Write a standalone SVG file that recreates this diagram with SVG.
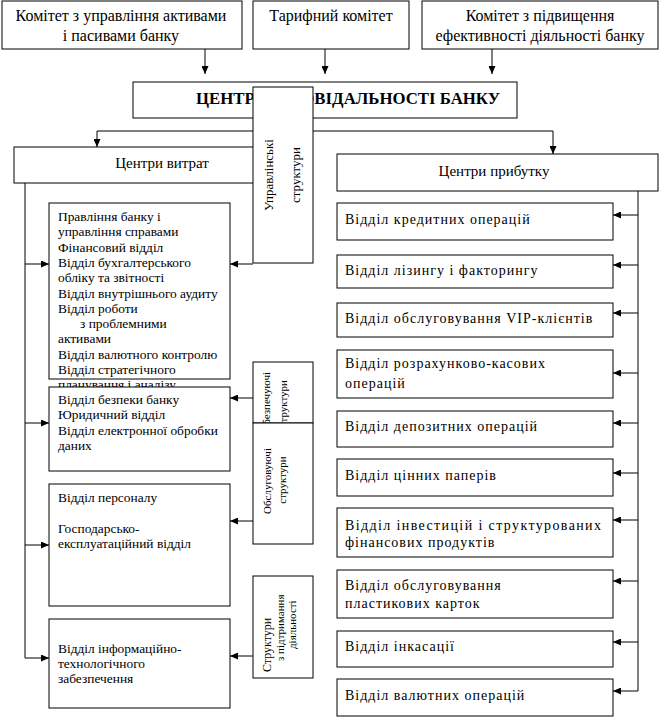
<svg xmlns="http://www.w3.org/2000/svg" width="662" height="717" viewBox="0 0 662 717" font-family="Liberation Serif, Times New Roman, serif">
<defs>
<marker id="ah" markerUnits="userSpaceOnUse" markerWidth="8" markerHeight="7" refX="8" refY="3.5" orient="auto">
<path d="M0,0 L8,3.5 L0,7 z" fill="#000"/>
</marker>
<style>
rect{fill:#fff;stroke:#000;stroke-width:1}
text{font-family:'Liberation Serif', serif;fill:#000}
.t16{font-size:16px}
.t15{font-size:15px}
.t13{font-size:13.4px}
.r{font-size:14px;letter-spacing:1px}
.v13{font-size:13px}
.v11{font-size:11px}
.c{text-anchor:middle}
.ln{fill:none;stroke:#000;stroke-width:1}
.ar{fill:none;stroke:#000;stroke-width:1;marker-end:url(#ah)}
</style>
</defs>
<rect x="0" y="0" width="662" height="717" style="fill:#fff;stroke:none"/>

<g id="connectors">
<line class="ar" x1="205" y1="49" x2="205" y2="74"/>
<line class="ar" x1="325" y1="49" x2="325" y2="74"/>
<line class="ar" x1="492" y1="49" x2="492" y2="74"/>
<line class="ln" x1="97" y1="131" x2="553" y2="131"/>
<line class="ar" x1="97" y1="131" x2="97" y2="147"/>
<line class="ar" x1="553" y1="131" x2="553" y2="154"/>
<line class="ln" x1="25" y1="183" x2="25" y2="658"/>
<line class="ar" x1="25" y1="264" x2="49" y2="264"/>
<line class="ar" x1="25" y1="423" x2="49" y2="423"/>
<line class="ar" x1="25" y1="545" x2="49" y2="545"/>
<line class="ar" x1="25" y1="658" x2="49" y2="658"/>
<line class="ar" x1="253" y1="264" x2="230" y2="264"/>
<line class="ar" x1="253" y1="398" x2="230" y2="398"/>
<line class="ar" x1="253" y1="521" x2="230" y2="521"/>
<line class="ar" x1="253" y1="656" x2="230" y2="656"/>
<line class="ln" x1="638" y1="191" x2="638" y2="691"/>
<line class="ar" x1="638" y1="215" x2="613" y2="215"/>
<line class="ar" x1="638" y1="265" x2="613" y2="265"/>
<line class="ar" x1="638" y1="313" x2="613" y2="313"/>
<line class="ar" x1="638" y1="373" x2="613" y2="373"/>
<line class="ar" x1="638" y1="423" x2="613" y2="423"/>
<line class="ar" x1="638" y1="473" x2="613" y2="473"/>
<line class="ar" x1="638" y1="520" x2="613" y2="520"/>
<line class="ar" x1="638" y1="581" x2="613" y2="581"/>
<line class="ar" x1="638" y1="642" x2="613" y2="642"/>
<line class="ar" x1="638" y1="691" x2="613" y2="691"/>
</g>

<g id="committee-assets">
<rect x="2" y="1" width="240" height="48"/>
<text class="t16 c" x="121" y="21">Комітет з управління активами</text>
<text class="t16 c" x="121" y="41">і пасивами банку</text>
</g>
<g id="tariff-committee">
<rect x="253" y="1" width="156" height="48"/>
<text class="t16 c" x="331" y="21">Тарифний комітет</text>
</g>
<g id="committee-efficiency">
<rect x="422" y="1" width="236" height="48"/>
<text class="t16 c" x="540" y="21">Комітет з підвищення</text>
<text class="t16 c" x="540" y="41">ефективності діяльності банку</text>
</g>

<g id="responsibility-centers">
<rect x="133" y="82" width="384" height="36"/>
<text x="196" y="104" style="font-size:17px;font-weight:bold" textLength="304" lengthAdjust="spacingAndGlyphs">ЦЕНТР ВІДПОВІДАЛЬНОСТІ БАНКУ</text>
</g>

<g id="cost-centers">
<rect x="14" y="147" width="296" height="36"/>
<text class="t15 c" x="162" y="168">Центри витрат</text>
</g>
<g id="profit-centers">
<rect x="337" y="154" width="321" height="37"/>
<text class="t15 c" x="494" y="176">Центри прибутку</text>
</g>

<g id="cost-box-a">
<rect x="49" y="203" width="181" height="176"/>
<text class="t13" x="58" y="221">Правління банку і</text>
<text class="t13" x="58" y="236.3">управління справами</text>
<text class="t13" x="58" y="251.6">Фінансовий відділ</text>
<text class="t13" x="58" y="266.9">Відділ бухгалтерського</text>
<text class="t13" x="58" y="282.2">обліку та звітності</text>
<text class="t13" x="58" y="297.5">Відділ внутрішнього аудиту</text>
<text class="t13" x="58" y="312.8">Відділ роботи</text>
<text class="t13" x="80" y="328.1">з проблемними</text>
<text class="t13" x="58" y="343.4">активами</text>
<text class="t13" x="58" y="358.7">Відділ валютного контролю</text>
<text class="t13" x="58" y="374">Відділ стратегічного</text>
<text class="t13" x="58" y="389.3">планування і аналізу</text>
</g>
<g id="cost-box-b">
<rect x="49" y="387" width="181" height="84"/>
<text class="t13" x="58" y="404">Відділ безпеки банку</text>
<text class="t13" x="58" y="419.3">Юридичний відділ</text>
<text class="t13" x="58" y="434.6">Відділ електронної обробки</text>
<text class="t13" x="58" y="449.9">даних</text>
</g>
<g id="cost-box-c">
<rect x="49" y="484" width="181" height="122"/>
<text class="t13" x="58" y="502">Відділ персоналу</text>
<text class="t13" x="58" y="533">Господарсько-</text>
<text class="t13" x="58" y="548">експлуатаційний відділ</text>
</g>
<g id="cost-box-d">
<rect x="49" y="619" width="181" height="89"/>
<text class="t13" x="58" y="653">Відділ інформаційно-</text>
<text class="t13" x="58" y="668">технологічного</text>
<text class="t13" x="58" y="683">забезпечення</text>
</g>

<g id="profit-1">
<rect x="337" y="203" width="276" height="37"/>
<text class="r" x="345" y="224">Відділ кредитних операцій</text>
</g>
<g id="profit-2">
<rect x="337" y="255" width="276" height="33"/>
<text class="r" x="345" y="275">Відділ лізингу і факторингу</text>
</g>
<g id="profit-3">
<rect x="337" y="303" width="276" height="34"/>
<text class="r" x="345" y="323">Відділ обслуговування VIP-клієнтів</text>
</g>
<g id="profit-4">
<rect x="337" y="350" width="276" height="48"/>
<text class="r" x="345" y="368">Відділ розрахунково-касових</text>
<text class="r" x="345" y="388">операцій</text>
</g>
<g id="profit-5">
<rect x="337" y="411" width="276" height="36"/>
<text class="r" x="345" y="431">Відділ депозитних операцій</text>
</g>
<g id="profit-6">
<rect x="337" y="459" width="276" height="37"/>
<text class="r" x="345" y="480">Відділ цінних паперів</text>
</g>
<g id="profit-7">
<rect x="337" y="508" width="276" height="49"/>
<text class="r" x="345" y="530" textLength="257" lengthAdjust="spacing">Відділ  інвестицій  і  структурованих</text>
<text class="r" x="345" y="547">фінансових продуктів</text>
</g>
<g id="profit-8">
<rect x="337" y="570" width="276" height="48"/>
<text class="r" x="345" y="590">Відділ обслуговування</text>
<text class="r" x="345" y="608">пластикових карток</text>
</g>
<g id="profit-9">
<rect x="337" y="631" width="276" height="36"/>
<text class="r" x="345" y="651">Відділ інкасації</text>
</g>
<g id="profit-10">
<rect x="337" y="679" width="276" height="37"/>
<text class="r" x="345" y="700">Відділ валютних операцій</text>
</g>

<g id="management-structures">
<rect x="253" y="87" width="60" height="176"/>
<text class="v13 c" transform="translate(273,175) rotate(-90)">Управлінські</text>
<text class="v13 c" transform="translate(300,175) rotate(-90)">структури</text>
</g>
<g id="supporting-structures">
<rect x="253" y="362" width="60" height="61"/>
<text class="v11" style="text-anchor:end" transform="translate(270,372) rotate(-90)">Забезпечуючі</text>
<text class="v11" style="text-anchor:end" transform="translate(287,380) rotate(-90)">структури</text>
</g>
<g id="servicing-structures">
<rect x="253" y="423" width="60" height="121"/>
<text class="v11 c" transform="translate(271,481) rotate(-90)">Обслуговуючі</text>
<text class="v11 c" transform="translate(286,480) rotate(-90)">структури</text>
</g>
<g id="activity-support-structures">
<rect x="253" y="576" width="60" height="102"/>
<text style="font-size:12px" transform="translate(271,672) rotate(-90)">Структури</text>
<text class="v11" transform="translate(284,661) rotate(-90)">з підтримання</text>
<text class="v11" transform="translate(296,649) rotate(-90)">діяльності</text>
</g>
</svg>
